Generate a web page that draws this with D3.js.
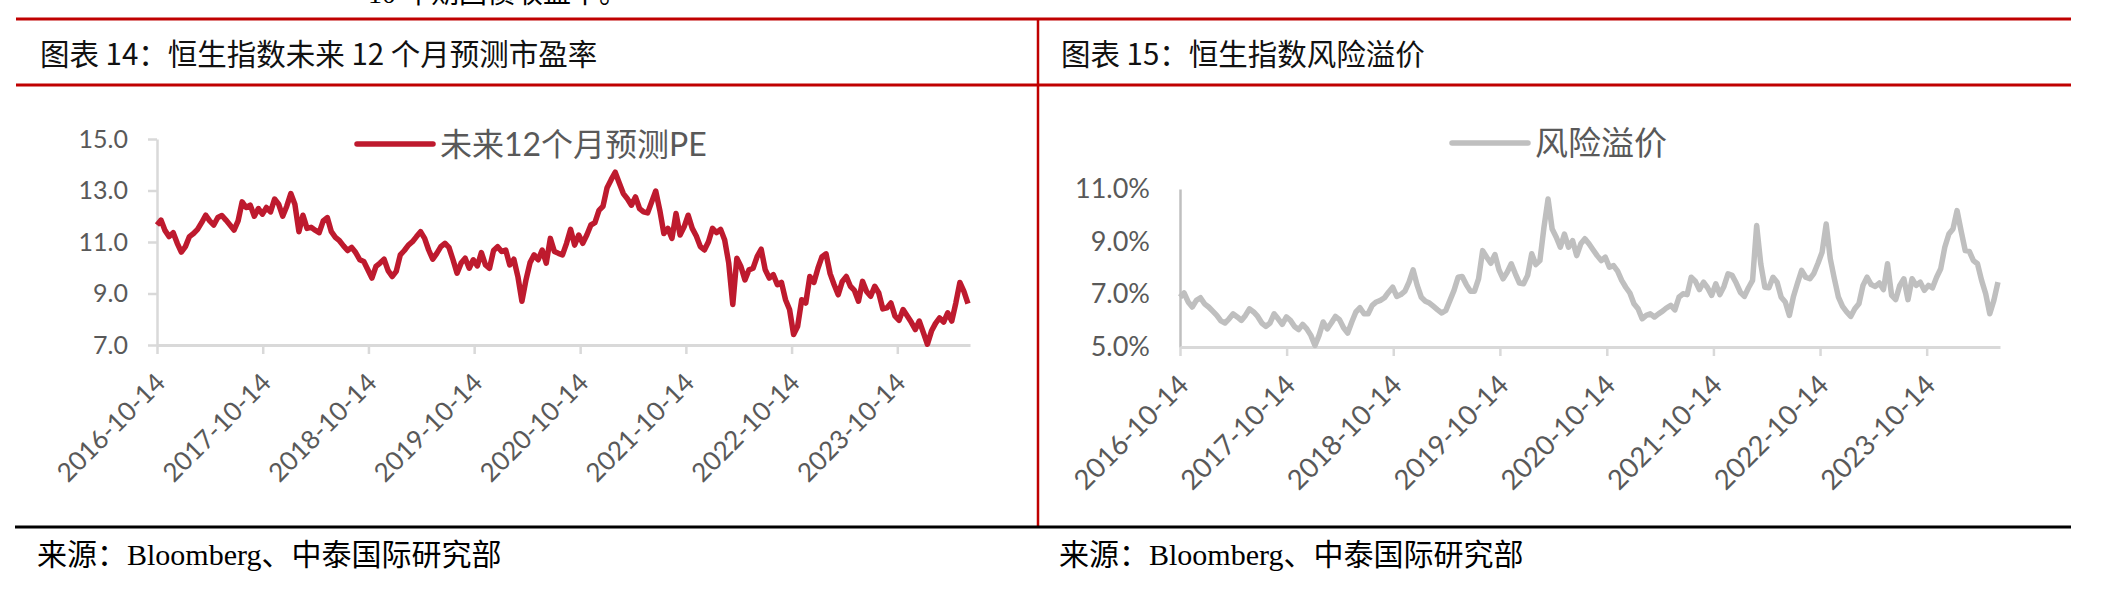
<!DOCTYPE html>
<html>
<head>
<meta charset="utf-8">
<script src="https://cdn.jsdelivr.net/npm/d3@7"></script>
<style>
  html, body { margin: 0; padding: 0; background: #fff; }
  svg { display: block; }
  .panel-title { font-family: "Noto Sans CJK SC", sans-serif; font-size: 29.5px; fill: #111; }
  .source { font-family: "Liberation Serif", "Noto Sans CJK SC", serif; font-size: 30px; fill: #000; }
  .legend-text { font-family: Lato, "Noto Sans CJK SC", sans-serif; fill: #595959; }
</style>
</head>
<body>
<svg id="chart" width="2107" height="604"></svg>
<script>
const SERIES_START = '2016-10-14';
const SAMPLE_STEP_DAYS = 14;
const AXIS_END = '2024-06-21';

const xTickLabels = ['2016-10-14', '2017-10-14', '2018-10-14', '2019-10-14',
  '2020-10-14', '2021-10-14', '2022-10-14', '2023-10-14'];

const peTicks = [15, 13, 11, 9, 7];
const riskTicks = [11, 9, 7, 5];

const peLabel = '未来12个月预测PE';
const riskLabel = '风险溢价';

const peValues = [
  11.66, 11.85, 11.44, 11.21, 11.36, 10.95, 10.61, 10.82, 11.21, 11.33,
  11.49, 11.75, 12.04, 11.82, 11.66, 11.95, 12.03, 11.85, 11.66, 11.46,
  11.82, 12.56, 12.34, 12.43, 12.00, 12.30, 12.08, 12.34, 12.17, 12.67,
  12.47, 12.00, 12.39, 12.88, 12.47, 11.40, 12.04, 11.53, 11.57, 11.46,
  11.36, 11.82, 11.95, 11.40, 11.18, 11.05, 10.85, 10.67, 10.79, 10.59,
  10.31, 10.24, 9.92, 9.60, 10.05, 10.18, 10.33, 9.89, 9.66, 9.86,
  10.50, 10.67, 10.88, 11.01, 11.21, 11.40, 11.14, 10.69, 10.33, 10.56,
  10.82, 10.95, 10.79, 10.31, 9.79, 10.18, 10.37, 9.98, 10.31, 10.07,
  10.59, 10.11, 9.98, 10.67, 10.82, 10.63, 10.69, 10.11, 10.33, 9.66,
  8.70, 9.53, 10.20, 10.50, 10.31, 10.69, 10.18, 11.14, 10.63, 10.56,
  10.50, 10.95, 11.49, 10.88, 11.27, 10.95, 11.27, 11.66, 11.75, 12.23,
  12.39, 13.11, 13.42, 13.71, 13.29, 12.88, 12.68, 12.43, 12.75, 12.30,
  12.17, 12.13, 12.56, 12.98, 12.23, 11.33, 11.53, 11.14, 12.11, 11.27,
  11.59, 12.04, 11.53, 11.23, 10.82, 10.69, 11.01, 11.53, 11.36, 11.49,
  11.08, 10.18, 8.57, 10.37, 10.05, 9.53, 9.92, 9.98, 10.43, 10.72,
  9.92, 9.60, 9.73, 9.34, 9.43, 8.76, 8.38, 7.41, 7.73, 8.76,
  8.63, 9.66, 9.43, 9.98, 10.43, 10.54, 9.77, 9.34, 8.95, 9.47,
  9.66, 9.28, 9.12, 8.70, 9.47, 9.08, 8.89, 9.28, 9.02, 8.40,
  8.44, 8.63, 8.12, 7.96, 8.38, 8.14, 7.89, 7.60, 7.93, 7.48,
  7.03, 7.54, 7.84, 8.05, 7.89, 8.25, 7.93, 8.63, 9.43, 9.08,
  8.61,
];

// risk premium, in percent
const riskValues = [
  6.89, 7.05, 6.71, 6.52, 6.77, 6.87, 6.64, 6.52, 6.36, 6.20,
  5.99, 5.91, 6.07, 6.26, 6.14, 6.01, 6.20, 6.45, 6.33, 6.16,
  5.91, 5.78, 5.91, 6.26, 6.07, 5.86, 6.14, 6.01, 5.78, 5.66,
  5.86, 5.69, 5.44, 5.06, 5.44, 5.95, 5.69, 5.91, 6.16, 6.04,
  5.73, 5.53, 5.95, 6.33, 6.49, 6.26, 6.26, 6.58, 6.71, 6.77,
  6.87, 7.08, 7.27, 6.92, 6.99, 7.12, 7.46, 7.93, 7.34, 6.89,
  6.74, 6.67, 6.54, 6.41, 6.29, 6.39, 6.77, 7.15, 7.65, 7.68,
  7.37, 7.12, 7.12, 7.59, 8.66, 8.41, 8.18, 8.51, 7.93, 7.59,
  7.84, 8.16, 7.78, 7.43, 7.40, 7.72, 8.54, 8.13, 8.28, 9.55,
  10.62, 9.48, 9.17, 8.79, 9.29, 8.79, 9.04, 8.47, 8.92, 9.11,
  8.92, 8.69, 8.47, 8.28, 8.41, 8.03, 8.09, 7.88, 7.53, 7.27,
  7.05, 6.64, 6.45, 6.07, 6.20, 6.26, 6.14, 6.26, 6.36, 6.49,
  6.58, 6.41, 6.89, 7.02, 6.99, 7.65, 7.50, 7.18, 7.46, 7.25,
  6.96, 7.40, 6.99, 7.30, 7.78, 7.72, 7.43, 7.08, 6.92, 7.25,
  7.53, 9.61, 8.16, 7.27, 7.25, 7.65, 7.46, 6.89, 6.71, 6.20,
  6.92, 7.43, 7.91, 7.65, 7.59, 7.80, 8.18, 8.60, 9.67, 8.35,
  7.59, 6.89, 6.54, 6.33, 6.16, 6.45, 6.64, 7.34, 7.65, 7.37,
  7.30, 7.43, 7.18, 8.16, 6.96, 6.80, 7.34, 7.59, 6.80, 7.59,
  7.34, 7.46, 7.15, 7.34, 7.25, 7.65, 7.97, 8.79, 9.29, 9.48,
  10.18, 9.40, 8.66, 8.63, 8.28, 8.16, 7.53, 7.02, 6.26, 6.77,
  7.46,
];

const parseDate = d3.timeParse('%Y-%m-%d');
const formatDate = d3.timeFormat('%Y-%m-%d');

function buildSeries(values) {
  const start = parseDate(SERIES_START);
  return values.map((value, i) => ({
    date: d3.timeDay.offset(start, i * SAMPLE_STEP_DAYS),
    value,
  }));
}

const RED = '#c00000';
const AXIS_GREY = '#d9d9d9';
const LABEL_GREY = '#595959';
const LABEL_FONT = 'Lato, "Noto Sans CJK SC", sans-serif';

const svg = d3.select('#chart');

function drawFrame() {
  const frame = svg.append('g').attr('class', 'frame');
  // cut-off last line of the body text above the figure
  frame.append('text')
    .attr('class', 'source')
    .attr('x', 368)
    .attr('y', 3)
    .style('font-size', '28px')
    .text('10 年期国债收益率。')
  ;
  [19, 85].forEach((y) => {
    frame.append('line')
      .attr('x1', 16).attr('x2', 2071)
      .attr('y1', y).attr('y2', y)
      .attr('stroke', RED)
      .attr('stroke-width', 3)
    ;
  });
  frame.append('line')
    .attr('x1', 1038).attr('x2', 1038)
    .attr('y1', 19).attr('y2', 527)
    .attr('stroke', RED)
    .attr('stroke-width', 2.5)
  ;
  frame.append('line')
    .attr('x1', 15).attr('x2', 2071)
    .attr('y1', 527).attr('y2', 527)
    .attr('stroke', '#000')
    .attr('stroke-width', 3)
  ;
}

function drawPanel(panel) {
  const g = svg.append('g').attr('class', 'panel');

  g.append('text')
    .attr('class', 'panel-title')
    .attr('x', panel.titleX)
    .attr('y', 52)
    .attr('dominant-baseline', 'central')
    .text(panel.title)
  ;
  g.append('text')
    .attr('class', 'source')
    .attr('x', panel.sourceX)
    .attr('y', 554)
    .attr('dominant-baseline', 'central')
    .text('来源：Bloomberg、中泰国际研究部')
  ;

  const x = d3.scaleTime()
    .domain([parseDate(SERIES_START), parseDate(AXIS_END)])
    .range([panel.left, panel.right])
  ;
  const y = d3.scaleLinear()
    .domain(d3.extent(panel.ticks))
    .range([panel.bottom, panel.top])
  ;

  const yAxis = g.append('g')
    .attr('transform', `translate(${panel.left},0)`)
    .call(d3.axisLeft(y)
      .tickValues(panel.ticks)
      .tickFormat(panel.tickFormat)
      .tickSize(panel.yTickSize)
      .tickSizeOuter(0)
      .tickPadding(panel.yTickPadding))
  ;
  yAxis.select('.domain')
    .attr('stroke', panel.yAxisColor)
    .attr('stroke-width', 2.5)
  ;
  yAxis.selectAll('.tick line')
    .attr('stroke', AXIS_GREY)
    .attr('stroke-width', 2.5)
  ;
  yAxis.selectAll('.tick text')
    .attr('fill', LABEL_GREY)
    .style('font-family', LABEL_FONT)
    .style('font-size', `${panel.yFontSize}px`)
  ;

  const xAxis = g.append('g')
    .attr('transform', `translate(0,${panel.bottom})`)
    .call(d3.axisBottom(x)
      .tickValues(xTickLabels.map(parseDate))
      .tickFormat(formatDate)
      .tickSize(9)
      .tickSizeOuter(0))
  ;
  xAxis.select('.domain')
    .attr('stroke', AXIS_GREY)
    .attr('stroke-width', 3)
  ;
  xAxis.selectAll('.tick line')
    .attr('stroke', AXIS_GREY)
    .attr('stroke-width', 2.5)
  ;
  xAxis.selectAll('.tick text')
    .attr('x', 0)
    .attr('y', 0)
    .attr('dy', '0.35em')
    .attr('transform', `translate(3,33) rotate(-45)`)
    .attr('fill', LABEL_GREY)
    .style('text-anchor', 'end')
    .style('font-family', LABEL_FONT)
    .style('font-size', `${panel.xFontSize}px`)
  ;

  const line = d3.line()
    .x(d => x(d.date))
    .y(d => y(d.value))
  ;
  g.append('path')
    .datum(buildSeries(panel.values))
    .attr('d', line)
    .attr('fill', 'none')
    .attr('stroke', panel.color)
    .attr('stroke-width', 5.5)
    .attr('stroke-linejoin', 'round')
  ;

  const legend = g.append('g').attr('class', 'legend');
  legend.append('line')
    .attr('x1', panel.legend.x)
    .attr('x2', panel.legend.x + 76)
    .attr('y1', panel.legend.y)
    .attr('y2', panel.legend.y)
    .attr('stroke', panel.color)
    .attr('stroke-width', 5.5)
    .attr('stroke-linecap', 'round')
  ;
  legend.append('text')
    .attr('class', 'legend-text')
    .attr('x', panel.legend.x + 83)
    .attr('y', panel.legend.y - 1)
    .attr('dominant-baseline', 'central')
    .style('font-size', `${panel.legend.fontSize}px`)
    .text(panel.label)
  ;
}

drawFrame();

drawPanel({
  title: '图表 14：恒生指数未来 12 个月预测市盈率',
  titleX: 40,
  sourceX: 37,
  label: peLabel,
  values: peValues,
  ticks: peTicks,
  tickFormat: d3.format('.1f'),
  color: '#be1a2e',
  left: 157, right: 970, top: 139, bottom: 345,
  yTickSize: 9, yTickPadding: 20, yAxisColor: AXIS_GREY,
  yFontSize: 25, xFontSize: 26,
  legend: { x: 357, y: 144, fontSize: 32 },
});

drawPanel({
  title: '图表 15：恒生指数风险溢价',
  titleX: 1061,
  sourceX: 1059,
  label: riskLabel,
  values: riskValues,
  ticks: riskTicks,
  tickFormat: d => `${d.toFixed(1)}%`,
  color: '#bfbfbf',
  left: 1180, right: 2000, top: 189, bottom: 347,
  yTickSize: 0, yTickPadding: 30, yAxisColor: '#bfbfbf',
  yFontSize: 27, xFontSize: 27.5,
  legend: { x: 1452, y: 143, fontSize: 33 },
});
</script>
</body>
</html>
